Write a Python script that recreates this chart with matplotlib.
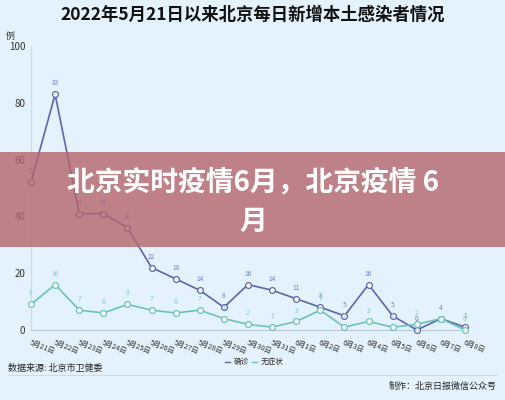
import matplotlib
matplotlib.use("Agg")
import matplotlib.pyplot as plt
from matplotlib.patches import Rectangle
from matplotlib.lines import Line2D

plt.rcParams['font.family'] = ['Noto Sans CJK SC', 'DejaVu Sans']

dates = ["5月21日", "5月22日", "5月23日", "5月24日", "5月25日", "5月26日", "5月27日",
         "5月28日", "5月29日", "5月30日", "5月31日", "6月1日", "6月2日", "6月3日",
         "6月4日", "6月5日", "6月6日", "6月7日", "6月8日"]
confirmed = [52, 83, 41, 41, 36, 22, 18, 14, 8, 16, 14, 11, 8, 5, 16, 5, 0, 4, 1]
asymptomatic = [9, 16, 7, 6, 9, 7, 6, 7, 4, 2, 1, 3, 7, 1, 3, 1, 2, 4, 0]
yticks = [0, 20, 40, 60, 80, 100]

W, H = 506, 400
BG = "#e3f2fc"
C1 = "#5a66ae"
C2 = "#6cc2b6"

fig = plt.figure(figsize=(W / 100, H / 100), dpi=100, facecolor=BG)

def fx(px):
    return px / W

def fy(py):
    return 1 - py / H

ax = fig.add_axes([fx(31), fy(330), fx(465) - fx(31), fy(46) - fy(330)])
ax.set_facecolor(BG)
ax.set_xlim(0, len(dates) - 1)
ax.set_ylim(0, 100)
for s in ["top", "right"]:
    ax.spines[s].set_visible(False)
ax.spines["left"].set_color("#d2dbe3")
ax.spines["left"].set_linewidth(0.8)
ax.spines["bottom"].set_color("#b9c8d6")
ax.spines["bottom"].set_linewidth(0.8)

x = list(range(len(dates)))
ax.plot(x, confirmed, color=C1, lw=1.2, marker="o", ms=4.2,
        mfc="white", mec=C1, mew=0.9, zorder=3, clip_on=False)
ax.plot(x, asymptomatic, color=C2, lw=1.2, marker="o", ms=4.2,
        mfc="white", mec=C2, mew=0.9, zorder=3, clip_on=False)

for xi, v in zip(x, confirmed):
    ax.annotate(str(v), (xi, v), xytext=(0, 5), textcoords="offset points",
                ha="center", va="bottom", fontsize=4.8, color="#7380bf")
for xi, (v, c) in enumerate(zip(asymptomatic, confirmed)):
    if v == c:
        continue  # same value: one shared label, as in the source
    ax.annotate(str(v), (xi, v), xytext=(0, 5), textcoords="offset points",
                ha="center", va="bottom", fontsize=4.8, color="#82cdc2")

ax.set_yticks(yticks)
ax.set_yticklabels([str(t) for t in yticks], fontsize=7, color="#333333")
ax.tick_params(axis="y", length=0, pad=4)
ax.set_xticks(x)
ax.set_xticklabels(dates, fontsize=5.2, color="#333333", rotation=-22,
                   ha="left", va="top", rotation_mode="anchor")
ax.tick_params(axis="x", length=0, pad=6)

# y unit label
fig.text(fx(10), fy(36), "例", fontsize=6.5, color="#333333", ha="center", va="center")

# title
fig.text(0.5, fy(15), "2022年5月21日以来北京每日新增本土感染者情况", fontsize=12.5,
         fontweight="heavy", color="#111111", ha="center", va="center")

# legend
fig.add_artist(Line2D([fx(225), fx(230)], [fy(362), fy(362)], color=C1, lw=1))
fig.text(fx(234), fy(362), "确诊", fontsize=5.5, color="#333333", va="center")
fig.add_artist(Line2D([fx(252), fx(257)], [fy(362), fy(362)], color=C2, lw=1))
fig.text(fx(261), fy(362), "无症状", fontsize=5.5, color="#333333", va="center")

# footer
fig.text(fx(8), fy(368), "数据来源: 北京市卫健委", fontsize=6.5, color="#222222", va="center")
fig.add_artist(Line2D([fx(8), fx(497)], [fy(375), fy(375)], color="#cfdbe5", lw=0.8))
fig.text(fx(497), fy(386), "制作：北京日报微信公众号", fontsize=6.5, color="#222222",
         ha="right", va="center")

# overlay banner
fig.add_artist(Rectangle((0, fy(247)), 1, fy(152) - fy(247), transform=fig.transFigure,
                         facecolor=(182 / 255, 101 / 255, 107 / 255), alpha=0.8,
                         edgecolor="none", zorder=10))
fig.text(0.5, fy(182), "北京实时疫情6月，北京疫情 6", fontsize=20, fontweight="bold",
         color="white", ha="center", va="center", zorder=11)
fig.text(0.5, fy(222), "月", fontsize=20, fontweight="bold",
         color="white", ha="center", va="center", zorder=11)

fig.savefig("out.png", dpi=100, facecolor=BG)
